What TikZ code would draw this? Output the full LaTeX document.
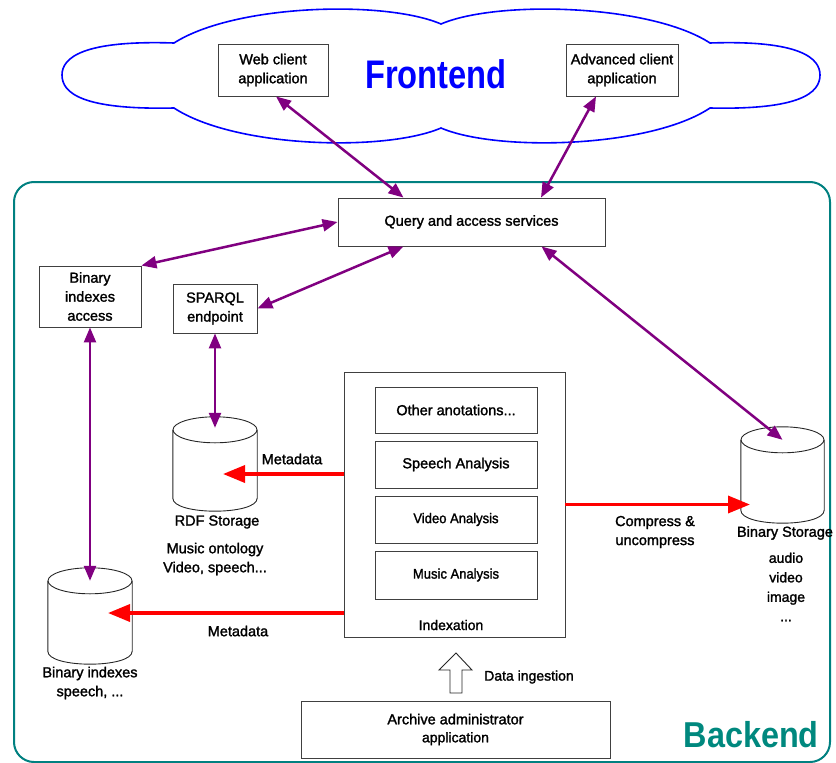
\documentclass[tikz,border=0pt]{standalone}
\usepackage{fontspec}
\setmainfont{Liberation Sans}[UprightFeatures={FakeBold=1.6}]
\newfontfamily\headfont{Liberation Sans Bold}
\usetikzlibrary{arrows.meta,calc}
\definecolor{purp}{HTML}{800080}
\definecolor{tealb}{HTML}{008080}
\definecolor{tealt}{HTML}{00887E}
\definecolor{boxgray}{HTML}{404040}
\newcommand\mycyl[2]{%
  \draw[cylline] ([yshift=-13pt]#1.north west) -- ([yshift=13pt]#1.south west)
     .. controls +(0,17.3) and +(0,17.3) .. ([yshift=13pt]#1.south east)
     -- ([yshift=-13pt]#1.north east);
  \draw[cylline] ([yshift=-13pt]#1.north) ellipse [x radius=#2, y radius=13];}
\begin{document}
\begin{tikzpicture}[x=1pt,y=-1pt,
  lbl/.style={font=\fontsize{14.5}{19}\selectfont, align=center, inner sep=0pt},
  slbl/.style={font=\fontsize{14}{19}\selectfont, align=center, inner sep=0pt},
  box/.style={draw=boxgray, line width=0.9pt, fill=white, align=center, inner sep=0pt,
              font=\fontsize{14.5}{19}\selectfont},
  cylspace/.style={inner sep=0pt, draw=none},
  cylline/.style={draw=black!85, line width=0.9pt},
  parr/.style={draw=purp, line width=2.5pt,
     {Triangle[length=15pt,width=12pt]}-{Triangle[length=15pt,width=12pt]}},
  rarr/.style={draw=red, line width=3.5pt, -{Triangle[length=22pt,width=17pt]}},
]
\useasboundingbox (0,0) rectangle (836,763);

% Frontend cloud
\draw[blue, line width=1.6pt]
  (174,43) .. controls (235,4) and (385,0) .. (441,24)
  .. controls (497,0) and (650,4) .. (710,43)
  .. controls (800,40) and (820,58) .. (820,75)
  .. controls (820,93) and (800,110) .. (710,108)
  .. controls (650,148) and (497,152) .. (441,128)
  .. controls (385,152) and (235,148) .. (174,108)
  .. controls (82,110) and (62,93) .. (62,75)
  .. controls (62,58) and (82,40) .. cycle;
\node[text=blue, inner sep=0pt] (fronttxt) at (436,74)
  {\scalebox{0.86}[1.05]{\headfont\fontsize{38}{38}\selectfont Frontend}};

% Backend frame
\draw[tealb, line width=2pt, rounded corners=20pt] (14,182) rectangle (830,762);
\node[text=tealt, inner sep=0pt, anchor=east] (backtxt) at (819,735)
  {\scalebox{0.9}[1]{\headfont\fontsize{36}{36}\selectfont Backend}};

% Boxes
\node[box, minimum width=110, minimum height=52] (web) at (273,70) {Web client\\application};
\node[box, minimum width=112, minimum height=52] (adv) at (622,70) {Advanced client\\application};
\node[box, minimum width=267, minimum height=48] (query) at (471.5,222) {Query and access services};
\node[box, minimum width=102, minimum height=61] (bia) at (90,296.5) {Binary\\indexes\\access};
\node[box, minimum width=84, minimum height=49] (sparql) at (215,308.5) {SPARQL\\endpoint};
\node[box, minimum width=221, minimum height=265] (idx) at (454.5,504.5) {};
\node[box, minimum width=162, minimum height=46] (other) at (456,410) {Other anotations...};
\node[box, minimum width=162, minimum height=47] (speech) at (456,464.5) {Speech Analysis};
\node[box, minimum width=162, minimum height=47, font=\fontsize{14}{19}\selectfont] (video) at (456,519.5) {\scalebox{0.93}[1]{Video Analysis}};
\node[box, minimum width=162, minimum height=48, font=\fontsize{14}{19}\selectfont] (music) at (456,575) {\scalebox{0.93}[1]{Music Analysis}};
\node[slbl] (idxlbl) at (451,625) {Indexation};
\node[box, minimum width=309, minimum height=57] (archive) at (455.5,729.5)
  {Archive administrator\\[-1pt]{\fontsize{14}{19}\selectfont application}};

% Cylinders
\node[cylspace, minimum width=84, minimum height=94] (rdf) at (215,464) {};
\node[cylspace, minimum width=83, minimum height=96] (bst) at (782.5,475) {};
\node[cylspace, minimum width=84, minimum height=96] (bix) at (90,616) {};
\mycyl{rdf}{42}
\mycyl{bst}{41.5}
\mycyl{bix}{42}

\node[lbl] (rdflbl) at (217,522) {RDF Storage};
\node[lbl] (rdfsub) at (215,559) {Music ontology\\Video, speech...};
\node[lbl] (bstlbl) at (785,533) {Binary Storage};
\node[slbl, font=\fontsize{14}{19.5}\selectfont] (bstsub) at (786,587) {audio\\video\\image\\...};
\node[lbl] (bixlbl) at (90,683) {Binary indexes\\speech, ...};

% Purple connectors
\draw[parr] ([xshift=3pt]web.south) -- ([xshift=-68pt]query.north);
\draw[parr] ([xshift=-26pt]adv.south) -- ([xshift=69.5pt]query.north);
\draw[parr] (query.west) -- (bia.north east);
\draw[parr] ([xshift=-68pt]query.south) -- (sparql.east);
\draw[parr] ([xshift=70pt]query.south) -- ([yshift=-13pt]bst.north);
\draw[parr] (sparql.south) -- ([yshift=-11pt]rdf.north);
\draw[parr] (bia.south) -- ([yshift=-13pt]bix.north);

% Red connectors
\coordinate (idxL1) at ([yshift=30.5pt]idx.west);
\coordinate (idxL2) at ([yshift=-108.5pt]idx.west);
\coordinate (idxR) at (idx.east);
\coordinate (rdfin) at ([xshift=8pt]rdf.center);
\coordinate (bixin) at ([xshift=18pt]bix.center);
\coordinate (bstin) at ([xshift=-32.5pt]bst.center);
\draw[rarr] (idxL1) -- (idxL1 -| rdfin);
\draw[rarr] (idxL2) -- (idxL2 -| bixin);
\draw[rarr] (idxR) -- (idxR -| bstin);
\node[lbl] (meta1) at (292,459) {Metadata};
\node[lbl] (meta2) at (238,631) {Metadata};
\node[lbl] (compress) at (655,532) {Compress \&\\uncompress};

% Data ingestion hollow arrow
\draw[black!85, line width=0.9pt, fill=white]
  (450,693) -- (450,670) -- (439,670) -- (456,653) -- (472,670) -- (462,670) -- (462,693) -- cycle;
\node[lbl, font=\fontsize{14}{19}\selectfont] (ingest) at (529,677) {Data ingestion};
\end{tikzpicture}
\end{document}
